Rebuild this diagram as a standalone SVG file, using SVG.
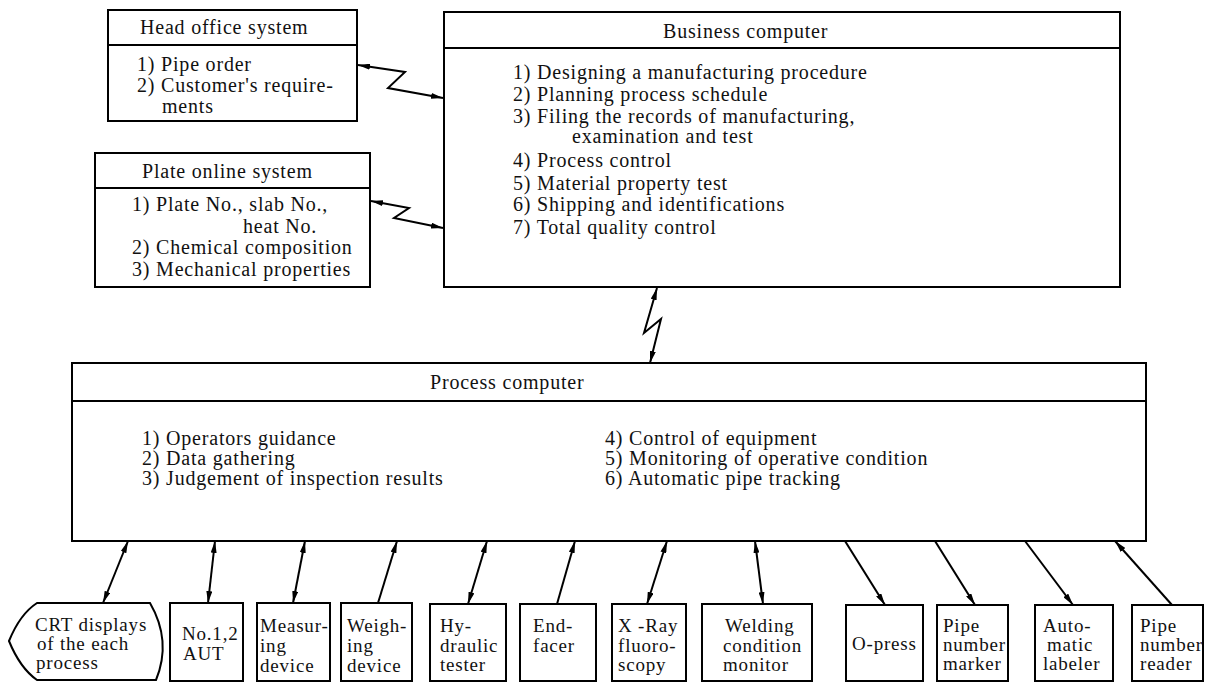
<svg xmlns="http://www.w3.org/2000/svg" width="1215" height="684" viewBox="0 0 1215 684">
<style>
.box{fill:#fff;stroke:#000;stroke-width:2}
.div{stroke:#000;stroke-width:2;fill:none}
.t{font-family:"Liberation Serif","Times New Roman",serif;font-size:20px;letter-spacing:0.8px;fill:#111}
.s{font-family:"Liberation Serif","Times New Roman",serif;font-size:19px;letter-spacing:0.8px;fill:#111}
.c{stroke:#000;stroke-width:2;fill:none}
</style>
<defs>
<marker id="ah" viewBox="0 0 12 6" refX="12" refY="3" markerWidth="12" markerHeight="6" markerUnits="userSpaceOnUse" orient="auto-start-reverse">
<path d="M0,0 L12,3 L0,6 z" fill="#000"/>
</marker>
</defs>
<rect width="1215" height="684" fill="#fff"/>

<g id="head-office">
<rect class="box" x="108" y="10" width="249" height="111"/>
<line class="div" x1="108" y1="45" x2="357" y2="45"/>
<text class="t" x="140" y="34">Head office system</text>
<text class="t" x="137" y="71">1) Pipe order</text>
<text class="t" x="137" y="92">2) Customer's require-</text>
<text class="t" x="162" y="113">ments</text>
</g>

<g id="plate-online">
<rect class="box" x="95" y="153" width="275" height="134"/>
<line class="div" x1="95" y1="188" x2="370" y2="188"/>
<text class="t" x="142" y="178">Plate online system</text>
<text class="t" x="132" y="211">1) Plate No., slab No.,</text>
<text class="t" x="243" y="233">heat No.</text>
<text class="t" x="132" y="254">2) Chemical composition</text>
<text class="t" x="132" y="276">3) Mechanical properties</text>
</g>

<g id="business-computer">
<rect class="box" x="444" y="12" width="676" height="275"/>
<line class="div" x1="444" y1="48" x2="1120" y2="48"/>
<text class="t" x="663" y="38">Business computer</text>
<text class="t" x="513" y="79">1) Designing a manufacturing procedure</text>
<text class="t" x="513" y="101">2) Planning process schedule</text>
<text class="t" x="513" y="123">3) Filing the records of manufacturing,</text>
<text class="t" x="572" y="143">examination and test</text>
<text class="t" x="513" y="167">4) Process control</text>
<text class="t" x="513" y="190">5) Material property test</text>
<text class="t" x="513" y="211">6) Shipping and identifications</text>
<text class="t" x="513" y="234">7) Total quality control</text>
</g>

<g id="process-computer">
<rect class="box" x="72" y="363" width="1074" height="178"/>
<line class="div" x1="72" y1="401" x2="1146" y2="401"/>
<text class="t" x="430" y="389">Process computer</text>
<text class="t" x="142" y="445">1) Operators guidance</text>
<text class="t" x="142" y="465">2) Data gathering</text>
<text class="t" x="142" y="485">3) Judgement of inspection results</text>
<text class="t" x="605" y="445">4) Control of equipment</text>
<text class="t" x="605" y="465">5) Monitoring of operative condition</text>
<text class="t" x="605" y="485">6) Automatic pipe tracking</text>
</g>

<g id="crt-displays">
<path class="box" d="M37,603 L150,603 Q172,641 156,680 L37,680 Q20,668 9,641 Q20,614 37,603 Z"/>
<text class="s" x="35" y="631">CRT displays</text>
<text class="s" x="37" y="650">of the each</text>
<text class="s" x="36" y="669">process</text>
</g>

<g id="aut">
<rect class="box" x="170" y="603" width="73" height="78"/>
<text class="s" x="182" y="640">No.1,2</text>
<text class="s" x="183" y="660">AUT</text>
</g>

<g id="measuring-device">
<rect class="box" x="257" y="603" width="73" height="78"/>
<text class="s" x="260" y="632">Measur-</text>
<text class="s" x="260" y="652">ing</text>
<text class="s" x="260" y="672">device</text>
</g>

<g id="weighing-device">
<rect class="box" x="341" y="603" width="71" height="78"/>
<text class="s" x="347" y="632">Weigh-</text>
<text class="s" x="347" y="652">ing</text>
<text class="s" x="347" y="672">device</text>
</g>

<g id="hydraulic-tester">
<rect class="box" x="430" y="604" width="76" height="77"/>
<text class="s" x="440" y="632">Hy-</text>
<text class="s" x="440" y="652">draulic</text>
<text class="s" x="440" y="671">tester</text>
</g>

<g id="end-facer">
<rect class="box" x="520" y="604" width="76" height="77"/>
<text class="s" x="533" y="632">End-</text>
<text class="s" x="533" y="652">facer</text>
</g>

<g id="x-ray">
<rect class="box" x="612" y="604" width="74" height="77"/>
<text class="s" x="618" y="632">X -Ray</text>
<text class="s" x="618" y="652">fluoro-</text>
<text class="s" x="618" y="671">scopy</text>
</g>

<g id="welding-monitor">
<rect class="box" x="702" y="604" width="110" height="77"/>
<text class="s" x="725" y="632">Welding</text>
<text class="s" x="723" y="652">condition</text>
<text class="s" x="723" y="671">monitor</text>
</g>

<g id="o-press">
<rect class="box" x="846" y="605" width="77" height="76"/>
<text class="s" x="852" y="650">O-press</text>
</g>

<g id="pipe-number-marker">
<rect class="box" x="937" y="605" width="71" height="76"/>
<text class="s" x="943" y="632">Pipe</text>
<text class="s" x="943" y="651">number</text>
<text class="s" x="943" y="670">marker</text>
</g>

<g id="automatic-labeler">
<rect class="box" x="1035" y="605" width="78" height="76"/>
<text class="s" x="1043" y="632">Auto-</text>
<text class="s" x="1047" y="651">matic</text>
<text class="s" x="1043" y="670">labeler</text>
</g>

<g id="pipe-number-reader">
<rect class="box" x="1132" y="605" width="71" height="76"/>
<text class="s" x="1140" y="632">Pipe</text>
<text class="s" x="1140" y="651">number</text>
<text class="s" x="1140" y="670">reader</text>
</g>

<g id="connectors">
<polyline class="c" points="358,65 405,72 388,88 443,98" marker-start="url(#ah)" marker-end="url(#ah)"/>
<polyline class="c" points="371,201 409,208 394,218 443,228" marker-start="url(#ah)" marker-end="url(#ah)"/>
<polyline class="c" points="657,288 644,333 661,319 650,363" marker-start="url(#ah)" marker-end="url(#ah)"/>
<line class="c" x1="128" y1="541" x2="103" y2="603" marker-start="url(#ah)" marker-end="url(#ah)"/>
<line class="c" x1="215" y1="541" x2="208" y2="603" marker-start="url(#ah)" marker-end="url(#ah)"/>
<line class="c" x1="305" y1="541" x2="293" y2="603" marker-start="url(#ah)" marker-end="url(#ah)"/>
<line class="c" x1="397" y1="541" x2="378" y2="603" marker-start="url(#ah)"/>
<line class="c" x1="487" y1="541" x2="468" y2="604" marker-start="url(#ah)" marker-end="url(#ah)"/>
<line class="c" x1="575" y1="541" x2="557" y2="604" marker-start="url(#ah)"/>
<line class="c" x1="667" y1="541" x2="647" y2="604" marker-start="url(#ah)" marker-end="url(#ah)"/>
<line class="c" x1="755" y1="541" x2="763" y2="604" marker-start="url(#ah)" marker-end="url(#ah)"/>
<line class="c" x1="845" y1="541" x2="885" y2="605" marker-end="url(#ah)"/>
<line class="c" x1="935" y1="541" x2="975" y2="605" marker-end="url(#ah)"/>
<line class="c" x1="1025" y1="541" x2="1073" y2="605" marker-end="url(#ah)"/>
<line class="c" x1="1115" y1="541" x2="1172" y2="605" marker-start="url(#ah)"/>
</g>
</svg>
